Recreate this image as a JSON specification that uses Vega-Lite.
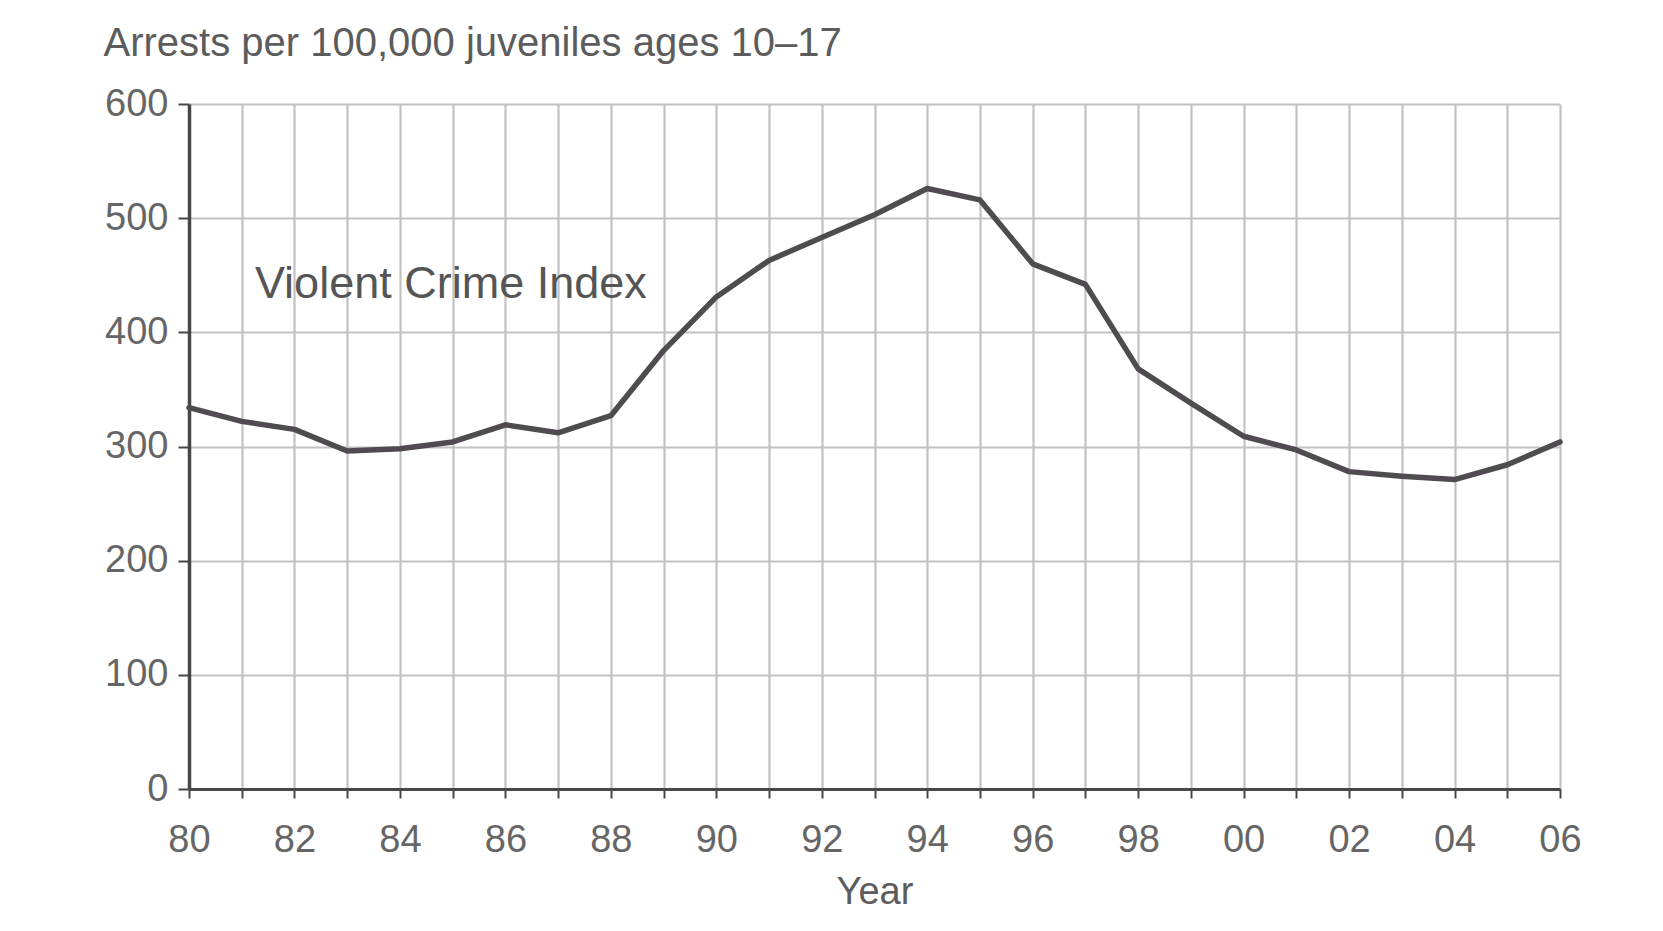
{
  "$schema": "https://vega.github.io/schema/vega-lite/v6.json",
  "autosize": {"type": "none"},
  "width": 1371,
  "height": 685,
  "padding": {"left": 189, "top": 104, "right": 103, "bottom": 142},
  "background": "#ffffff",
  "config": {
    "view": {"stroke": null},
    "font": "Liberation Sans",
    "axis": {
      "labelFont": "Liberation Sans",
      "titleFont": "Liberation Sans",
      "labelColor": "#666666",
      "titleColor": "#5c5c5c",
      "titleFontWeight": "normal",
      "gridColor": "#c2c2c2",
      "gridWidth": 2.2,
      "domainColor": "#4a454a",
      "tickColor": "#4a454a"
    }
  },
  "layer": [
    {
      "data": {
        "values": [
          {"year": 1980, "rate": 334},
          {"year": 1981, "rate": 322},
          {"year": 1982, "rate": 315},
          {"year": 1983, "rate": 296},
          {"year": 1984, "rate": 298},
          {"year": 1985, "rate": 304},
          {"year": 1986, "rate": 319},
          {"year": 1987, "rate": 312},
          {"year": 1988, "rate": 327},
          {"year": 1989, "rate": 384},
          {"year": 1990, "rate": 431},
          {"year": 1991, "rate": 463},
          {"year": 1992, "rate": 483},
          {"year": 1993, "rate": 503},
          {"year": 1994, "rate": 526},
          {"year": 1995, "rate": 516},
          {"year": 1996, "rate": 460},
          {"year": 1997, "rate": 442},
          {"year": 1998, "rate": 368},
          {"year": 1999, "rate": 338},
          {"year": 2000, "rate": 309},
          {"year": 2001, "rate": 297},
          {"year": 2002, "rate": 278},
          {"year": 2003, "rate": 274},
          {"year": 2004, "rate": 271},
          {"year": 2005, "rate": 284},
          {"year": 2006, "rate": 304}
        ]
      },
      "mark": {"type": "line", "color": "#504b50", "strokeWidth": 5.5, "strokeJoin": "round", "strokeCap": "round"},
      "encoding": {
        "x": {
          "field": "year",
          "type": "quantitative",
          "scale": {"domain": [1980, 2006], "nice": false, "zero": false},
          "axis": {
            "values": [1980, 1981, 1982, 1983, 1984, 1985, 1986, 1987, 1988, 1989, 1990, 1991, 1992, 1993, 1994, 1995, 1996, 1997, 1998, 1999, 2000, 2001, 2002, 2003, 2004, 2005, 2006],
            "labelExpr": "datum.value % 2 == 0 ? slice('0' + (datum.value % 100), -2) : ''",
            "labelOverlap": false,
            "labelFlush": false,
            "labelFontSize": 38,
            "labelPadding": 23,
            "tickSize": 9,
            "tickWidth": 2,
            "domainWidth": 3,
            "title": "Year",
            "titleFontSize": 38,
            "titlePadding": 14
          }
        },
        "y": {
          "field": "rate",
          "type": "quantitative",
          "scale": {"domain": [0, 600], "nice": false},
          "axis": {
            "values": [0, 100, 200, 300, 400, 500, 600],
            "labelFontSize": 38,
            "labelPadding": 10,
            "tickSize": 11,
            "tickWidth": 2,
            "domainWidth": 3.5,
            "title": "Arrests per 100,000 juveniles ages 10\u201317",
            "titleFontSize": 40,
            "titleAngle": 0,
            "titleAlign": "left",
            "titleBaseline": "middle",
            "titleX": -86,
            "titleY": -61
          }
        }
      }
    },
    {
      "data": {"values": [{"year": 1981.25, "rate": 442, "label": "Violent Crime Index"}]},
      "mark": {"type": "text", "align": "left", "baseline": "middle", "fontSize": 45, "color": "#555555", "font": "Liberation Sans"},
      "encoding": {
        "x": {"field": "year", "type": "quantitative"},
        "y": {"field": "rate", "type": "quantitative"},
        "text": {"field": "label"}
      }
    }
  ]
}
